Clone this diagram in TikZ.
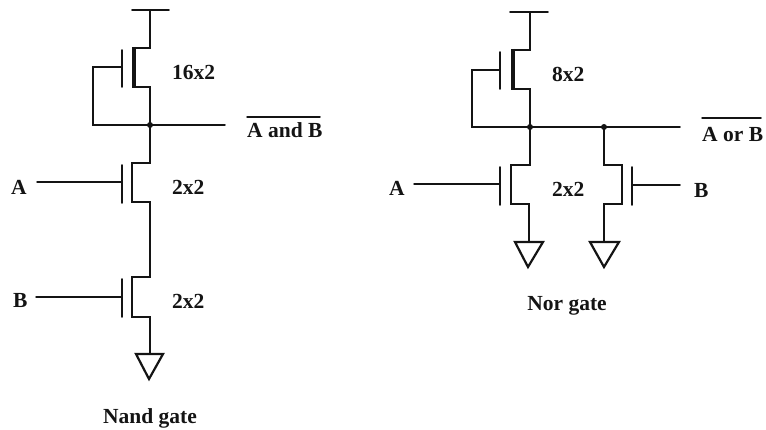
\documentclass[tikz,border=0pt]{standalone}
\usepackage{fontspec}
\setmainfont{Liberation Serif}
\begin{document}
\begin{tikzpicture}[x=1pt,y=-1pt,
  wire/.style={draw=black!92,line width=1.9pt,line cap=round,line join=miter},
  thin wire/.style={draw=black!92,line width=1.5pt,line cap=round},
  thick channel/.style={draw=black!92,line width=4.4pt},
  ground/.style={draw=black!92,line width=2.2pt,line join=miter},
  dot/.style={circle,fill=black!92,inner sep=0pt,minimum size=6pt},
  lbl/.style={font=\fontsize{21.5}{24}\selectfont\bfseries,text=black!92,inner sep=0pt,anchor=base west},
  gatecaption/.style={font=\fontsize{21.5}{24}\selectfont\bfseries,text=black!92,inner sep=0pt,anchor=base}]
\useasboundingbox (0,0) rectangle (766,430);
% ---- NAND gate ----
\coordinate (nj) at (150,125);
\coordinate (nvt) at (150,10);
\draw[wire] (132,10) -- (169,10);
\draw[wire] (nvt) -- (150,48) -- (134,48);
\draw[wire] (134,87) -- (150,87) -- (nj);
\draw[thick channel] (134,47) -- (134,88);
\draw[wire] (122,50) -- (122,87);
\draw[thin wire] (122,67) -- (93,67) -- (93,125) -- (nj) -- (225,125);
\node[dot] at (nj) {};
\draw[wire] (nj) -- (150,163) -- (132,163) -- (132,202) -- (150,202) -- (150,277) -- (132,277) -- (132,317) -- (150,317) -- (150,354);
\draw[wire] (122,165) -- (122,203);
\draw[wire] (122,279) -- (122,317);
\draw[thin wire] (37,182) -- (122,182);
\draw[thin wire] (36,297) -- (122,297);
\draw[ground] (136,354) -- (163,354) -- (149,379) -- cycle;
\node[lbl] at (172,80) {16x2};
\node[lbl] at (172,195) {2x2};
\node[lbl] at (172,309) {2x2};
\node[lbl] at (247,138) {A and B};
\draw[thin wire] (247,117) -- (320,117);
\node[lbl] at (11,195) {A};
\node[lbl] at (13,308) {B};
\node[gatecaption] at (150,423) {Nand gate};
% ---- NOR gate ----
\coordinate (rj) at (530,127);
\coordinate (rk) at (604,127);
\draw[wire] (510,12) -- (548,12);
\draw[wire] (530,12) -- (530,50) -- (513,50);
\draw[wire] (513,89) -- (530,89) -- (rj);
\draw[thick channel] (513,49) -- (513,90);
\draw[wire] (500,52) -- (500,89);
\draw[thin wire] (500,70) -- (472,70) -- (472,127) -- (rj) -- (rk) -- (680,127);
\node[dot] at (rj) {};
\node[dot] at (rk) {};
\draw[wire] (rj) -- (530,165) -- (511,165) -- (511,204) -- (529,204) -- (529,241);
\draw[wire] (500,167) -- (500,205);
\draw[thin wire] (414,184) -- (500,184);
\draw[ground] (515,242) -- (543,242) -- (528,267) -- cycle;
\draw[wire] (rk) -- (604,165) -- (622,165) -- (622,204) -- (604,204) -- (604,241);
\draw[wire] (632,167) -- (632,205);
\draw[thin wire] (632,185) -- (680,185);
\draw[ground] (590,242) -- (619,242) -- (604,267) -- cycle;
\node[lbl] at (552,82) {8x2};
\node[lbl] at (552,197) {2x2};
\node[lbl] at (694,198) {B};
\node[lbl] at (389,196) {A};
\node[lbl] at (702,142) {A or B};
\draw[thin wire] (702,118) -- (761,118);
\node[gatecaption] at (567,311) {Nor gate};
\end{tikzpicture}
\end{document}
